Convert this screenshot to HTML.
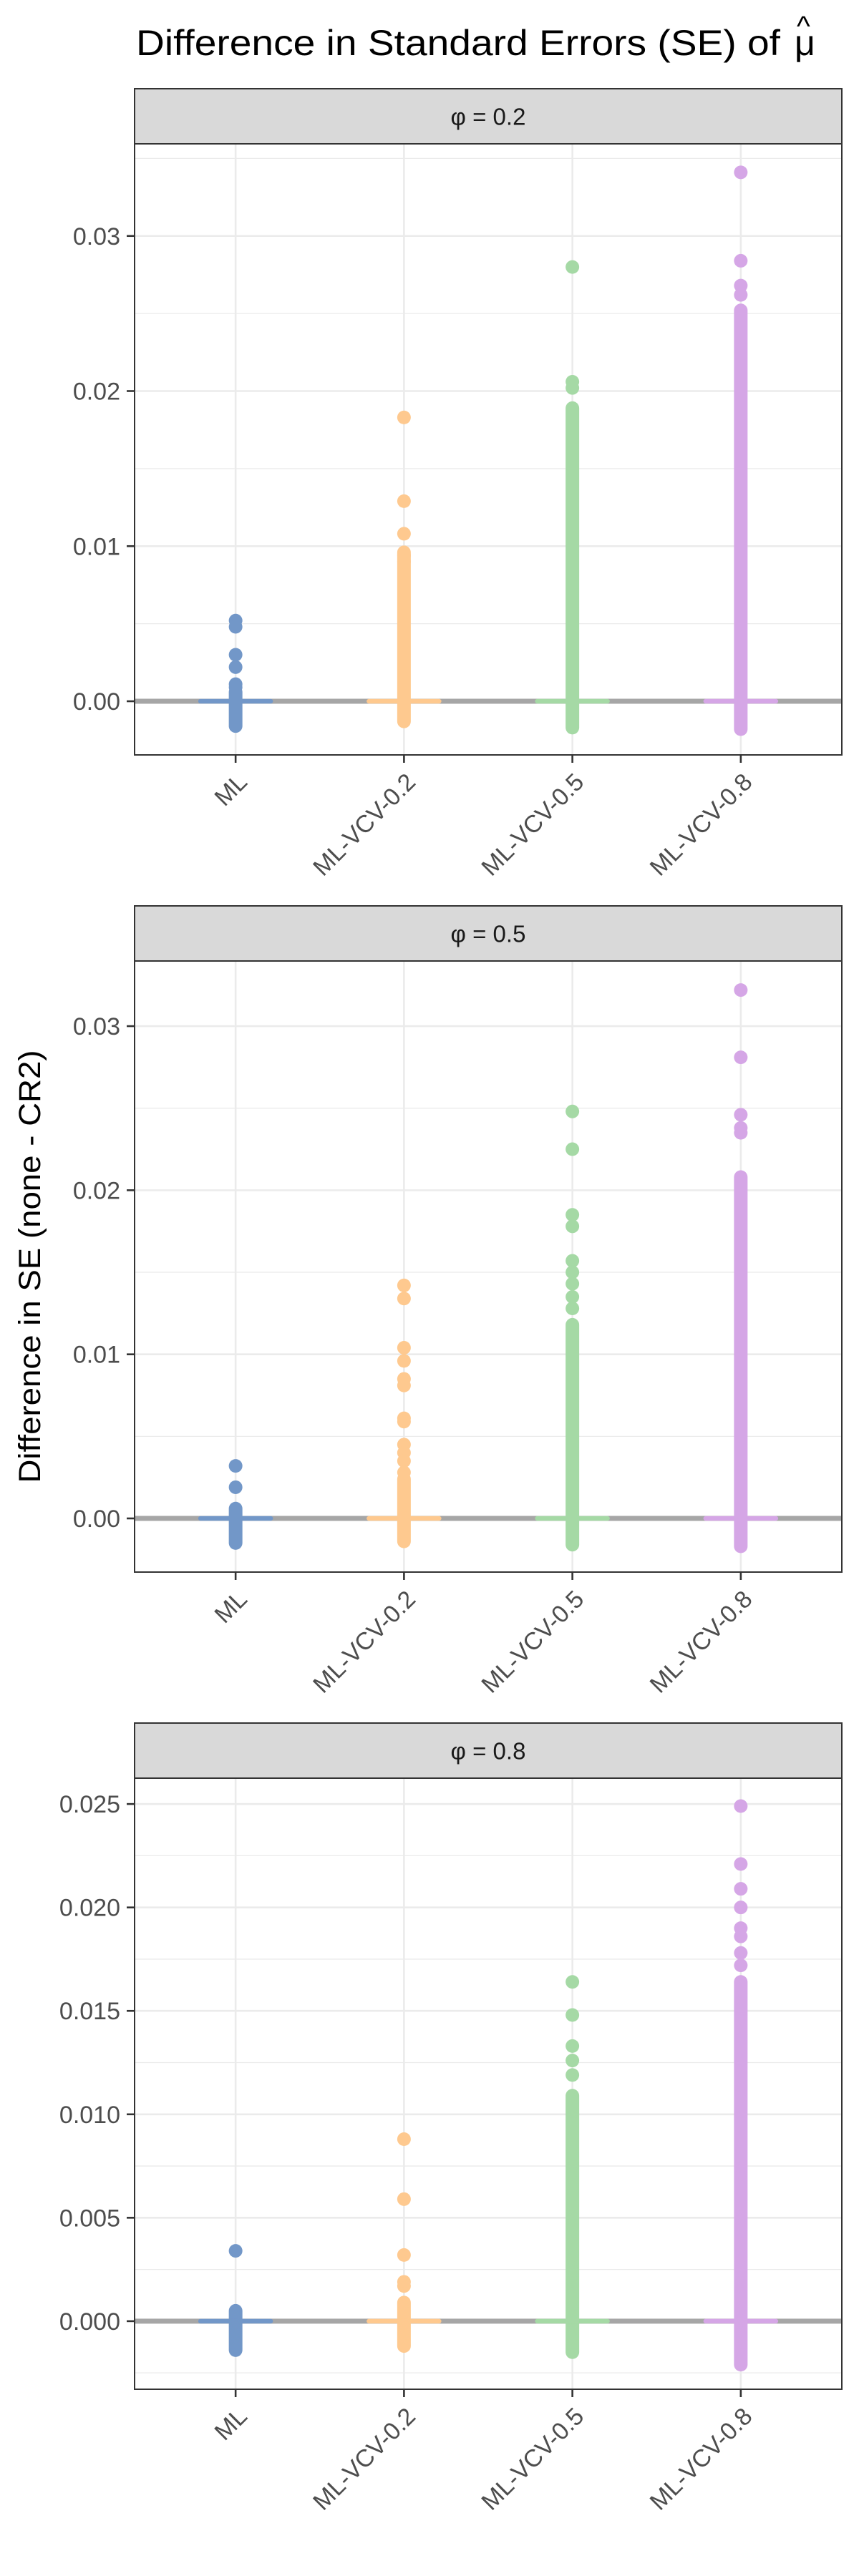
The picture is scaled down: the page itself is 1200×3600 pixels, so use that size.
<!DOCTYPE html>
<html><head><meta charset="utf-8"><style>
html,body{margin:0;padding:0;background:#fff}
svg{display:block}
text{font-family:"Liberation Sans",Arial,sans-serif}
</style></head><body>
<svg id="chart" width="1200" height="3600" viewBox="0 0 1200 3600" xmlns="http://www.w3.org/2000/svg">
<rect width="1200" height="3600" fill="#fff"/>
<text x="190" y="77" font-size="50" fill="#000" textLength="900" lengthAdjust="spacingAndGlyphs">Difference in Standard Errors (SE) of</text>
<text x="1110" y="77" font-size="50" fill="#000">μ</text>
<text x="1113" y="50" font-size="40" fill="#000">^</text>
<text transform="translate(56,1770) rotate(-90)" text-anchor="middle" font-size="43" fill="#000" textLength="605" lengthAdjust="spacingAndGlyphs">Difference in SE (none - CR2)</text>
<g id="panels"></g>
</svg>
<script>
const categories = ["ML","ML-VCV-0.2","ML-VCV-0.5","ML-VCV-0.8"];
const facetLabels = ["φ = 0.2","φ = 0.5","φ = 0.8"];
const colors = ["#7297c8","#fec98f","#a5d9a5","#d5a6e6"];
// tick values per facet
const ticks1 = [0,0.01,0.02,0.03];
const ticks2 = [0,0.01,0.02,0.03];
const ticks3 = [0,0.005,0.01,0.015,0.02,0.025];
const tickLabels1 = ["0.00","0.01","0.02","0.03"];
const tickLabels2 = ["0.00","0.01","0.02","0.03"];
const tickLabels3 = ["0.000","0.005","0.010","0.015","0.020","0.025"];
const minor1 = [0.005,0.015,0.025,0.035];
const minor2 = [0.005,0.015,0.025];
const minor3 = [-0.0025,0.0025,0.0075,0.0125,0.0175,0.0225];
// y-range (data units) per facet
const yRange1 = [-0.00346,0.03594];
const yRange2 = [-0.00327,0.03397];
const yRange3 = [-0.00329,0.02625];
// dense point clouds: lower and upper ends per category
const denseLo1 = [-0.0016,-0.0013,-0.0017,-0.0018];
const denseHi1 = [0.0006,0.0096,0.0189,0.0252];
const denseLo2 = [-0.0015,-0.0014,-0.0016,-0.0017];
const denseHi2 = [0.0006,0.0024,0.0118,0.0208];
const denseLo3 = [-0.0014,-0.0012,-0.0015,-0.0021];
const denseHi3 = [0.0005,0.0009,0.0109,0.0164];
// isolated points per category
const pts1 = [
  [0.0052,0.0048,0.0030,0.0022,0.0011,0.0009],
  [0.0183,0.0129,0.0108,0.0094,0.0090],
  [0.0280,0.0206,0.0202],
  [0.0341,0.0284,0.0268,0.0262]
];
const pts2 = [
  [0.0032,0.0019],
  [0.0142,0.0134,0.0104,0.0096,0.0085,0.0081,0.0061,0.0059,0.0045,0.0040,0.0035,0.0028],
  [0.0248,0.0225,0.0185,0.0178,0.0157,0.0150,0.0143,0.0135,0.0128],
  [0.0322,0.0281,0.0246,0.0238,0.0235]
];
const pts3 = [
  [0.0034],
  [0.0088,0.0059,0.0032,0.0019,0.0017],
  [0.0164,0.0148,0.0133,0.0126,0.0119],
  [0.0249,0.0221,0.0209,0.0200,0.0190,0.0186,0.0178,0.0172]
];
const medians = [0,0,0,0];

const facets = [
  {label:facetLabels[0],ticks:ticks1,tl:tickLabels1,minor:minor1,range:yRange1,lo:denseLo1,hi:denseHi1,pts:pts1,stripTop:124},
  {label:facetLabels[1],ticks:ticks2,tl:tickLabels2,minor:minor2,range:yRange2,lo:denseLo2,hi:denseHi2,pts:pts2,stripTop:1266},
  {label:facetLabels[2],ticks:ticks3,tl:tickLabels3,minor:minor3,range:yRange3,lo:denseLo3,hi:denseHi3,pts:pts3,stripTop:2408}
];
const NS="http://www.w3.org/2000/svg";
const root=document.getElementById('panels');
function mk(tag,attrs,parent){const e=document.createElementNS(NS,tag);for(const k in attrs)e.setAttribute(k,attrs[k]);(parent||root).appendChild(e);return e;}
const L=188,R=1176,stripH=77,panelH=854;
const step=(R-L)/(categories.length-1+1.2);
function xScale(i){return L+step*(0.6+i);}
facets.forEach((f,fi)=>{
  const g=mk('g',{});
  
  
  const top=f.stripTop+stripH, bot=top+panelH;
  const y=v=>bot-(v-f.range[0])/(f.range[1]-f.range[0])*panelH;
  // strip
  const st=mk('rect',{x:L,y:f.stripTop,width:R-L,height:stripH,fill:'#d9d9d9',stroke:'#333','stroke-width':2},g);
  
  
  const stt=mk('text',{x:(L+R)/2,y:f.stripTop+stripH/2+12,'text-anchor':'middle','font-size':33,fill:'#1a1a1a'},g);
  stt.textContent=f.label;
  
  
  // grid
  f.minor.forEach(v=>{const l=mk('line',{x1:L,x2:R,y1:y(v),y2:y(v),stroke:'#ebebeb','stroke-width':1.3},g);
    
    });
  f.ticks.forEach((v,i)=>{const l=mk('line',{x1:L,x2:R,y1:y(v),y2:y(v),stroke:'#ebebeb','stroke-width':2.6},g);
    
    
    const t=mk('line',{x1:L-11,x2:L,y1:y(v),y2:y(v),stroke:'#333','stroke-width':2.6},g);
    
    
    const tx=mk('text',{x:L-20,y:y(v)+12,'text-anchor':'end','font-size':34,fill:'#4d4d4d'},g);
    tx.textContent=f.tl[i];
    
    });
  categories.forEach((c,i)=>{const l=mk('line',{x1:xScale(i),x2:xScale(i),y1:top,y2:bot,stroke:'#ebebeb','stroke-width':2.6},g);
    
    });
  // zero reference line
  const z=mk('line',{x1:L,x2:R,y1:y(0),y2:y(0),stroke:'#a6a6a6','stroke-width':7},g);
  
  
  // points
  categories.forEach((c,i)=>{
    const x=xScale(i);
    const d=mk('line',{x1:x,x2:x,y1:y(f.lo[i]),y2:y(f.hi[i]),stroke:colors[i],'stroke-width':19,'stroke-linecap':'round'},g);
    
    
    f.pts[i].forEach(v=>{const p=mk('circle',{cx:x,cy:y(v),r:9.5,fill:colors[i]},g);
      
      });
    const m=mk('line',{x1:x-49,x2:x+49,y1:y(medians[i]),y2:y(medians[i]),stroke:colors[i],'stroke-width':6.5,'stroke-linecap':'round'},g);
    
    
  });
  // border
  const b=mk('rect',{x:L,y:top,width:R-L,height:panelH,fill:'none',stroke:'#333','stroke-width':2},g);
  
  
  // x ticks & labels
  categories.forEach((c,i)=>{const x=xScale(i);
    const t=mk('line',{x1:x,x2:x,y1:bot,y2:bot+11,stroke:'#333','stroke-width':2.6},g);
    
    
    const tx=mk('text',{transform:`translate(${x+18},${bot+40}) rotate(-45)`,'text-anchor':'end','font-size':34,fill:'#4d4d4d'},g);
    tx.textContent=c;
    
    });
});
</script>
</body></html>
